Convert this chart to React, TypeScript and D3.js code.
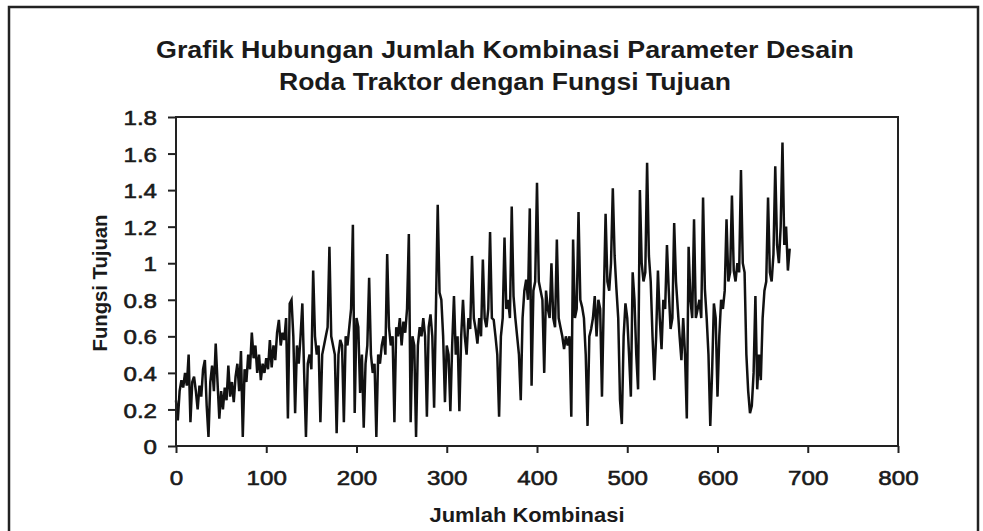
import * as d3 from 'd3';
import React, { useRef, useEffect } from 'react';

// Fungsi Tujuan, one value per 2 combinations (0..680)
const fungsi: number[] = [
  0.25, 0.14, 0.3, 0.36, 0.32, 0.4, 0.33, 0.5, 0.13, 0.35,
  0.38, 0.3, 0.2, 0.33, 0.27, 0.42, 0.47, 0.22, 0.05, 0.35,
  0.44, 0.3, 0.56, 0.35, 0.15, 0.3, 0.2, 0.32, 0.25, 0.44,
  0.27, 0.35, 0.24, 0.38, 0.45, 0.3, 0.52, 0.05, 0.42, 0.35,
  0.5, 0.42, 0.62, 0.48, 0.55, 0.4, 0.5, 0.36, 0.45, 0.4,
  0.48, 0.42, 0.58, 0.43, 0.55, 0.47, 0.62, 0.69, 0.55, 0.62,
  0.58, 0.7, 0.15, 0.78, 0.8, 0.6, 0.18, 0.55, 0.45, 0.6,
  0.78, 0.4, 0.05, 0.45, 0.5, 0.42, 0.96, 0.6, 0.5, 0.55,
  0.13, 0.5, 0.55, 0.6, 0.65, 1.09, 0.6, 0.55, 0.5, 0.07,
  0.5, 0.58, 0.55, 0.13, 0.6, 0.55, 0.65, 0.75, 1.21, 0.18,
  0.7, 0.65, 0.29, 0.5, 0.1, 0.45, 0.55, 0.92, 0.5, 0.4,
  0.45, 0.05, 0.5, 0.45, 0.55, 0.6, 0.5, 1.05, 0.65, 0.55,
  0.6, 0.13, 0.65, 0.6, 0.7, 0.55, 0.68, 0.62, 0.75, 1.16,
  0.13, 0.6, 0.55, 0.05, 0.55, 0.65, 0.6, 0.7, 0.6, 0.16,
  0.65, 0.72, 0.6, 0.21, 0.75, 1.32, 0.84, 0.8, 0.6, 0.24,
  0.55, 0.5, 0.19, 0.55, 0.82, 0.5, 0.6, 0.19, 0.6, 0.8,
  0.6, 0.5, 0.7, 0.64, 1.04, 0.7, 0.64, 0.56, 0.7, 0.6,
  1.02, 0.7, 0.65, 0.75, 1.17, 0.7, 0.69, 0.6, 0.5, 0.16,
  0.6, 0.7, 1.14, 0.75, 0.8, 0.7, 1.31, 0.82, 0.7, 0.6,
  0.5, 0.25, 0.7, 0.85, 0.91, 0.8, 1.3, 0.33, 0.85, 0.9,
  1.44, 0.9, 0.85, 0.8, 0.4, 0.85, 0.75, 0.7, 1.0, 0.7,
  0.65, 1.13, 0.7, 0.65, 0.6, 0.53, 0.6, 0.55, 0.6, 0.16,
  1.13, 0.7, 0.75, 1.28, 0.8, 0.76, 0.7, 0.5, 0.11, 0.6,
  0.64, 0.7, 0.82, 0.6, 0.8, 0.75, 0.27, 0.8, 1.27, 0.9,
  0.85, 1.0, 1.41, 1.04, 0.86, 0.7, 0.25, 0.12, 0.6, 0.78,
  0.7, 0.5, 0.27, 0.95, 0.8, 0.5, 0.31, 1.4, 1.0, 0.9,
  0.95, 1.55, 1.04, 0.9, 0.6, 0.36, 0.6, 0.96, 0.7, 0.53,
  0.8, 0.75, 1.1, 0.85, 0.64, 0.7, 1.22, 0.9, 0.75, 0.6,
  0.47, 0.7, 0.5, 0.15, 1.09, 0.8, 0.7, 1.24, 0.7, 0.75,
  0.8, 0.7, 1.36, 0.86, 0.7, 0.5, 0.11, 0.4, 0.78, 0.7,
  0.27, 0.6, 0.8, 0.75, 0.85, 1.24, 0.9, 0.95, 1.37, 0.96,
  0.9, 1.0, 0.95, 1.51, 1.0, 0.95, 0.5, 0.3, 0.18, 0.22,
  0.4, 0.82, 0.31, 0.5, 0.36, 0.7, 0.85, 0.9, 1.36, 0.95,
  0.9, 1.05, 1.53, 1.1, 1.0, 1.2, 1.66, 1.1, 1.2, 0.96,
  1.08,
];
const jumlah: number[] = d3.range(fungsi.length).map(i => i * 2);

const xTicks = [0, 100, 200, 300, 400, 500, 600, 700, 800];
const yTicks = [0, 0.2, 0.4, 0.6, 0.8, 1, 1.2, 1.4, 1.6, 1.8];
const titleLines = [
  'Grafik Hubungan Jumlah Kombinasi Parameter Desain',
  'Roda Traktor dengan Fungsi Tujuan',
];

const W = 983;
const H = 531;
const plot = { left: 176, right: 898, top: 117, bottom: 446 };
const font = 'Liberation Sans, Arial, sans-serif';
const ink = '#1a1a1a';

export default function App() {
  const ref = useRef<SVGSVGElement>(null);

  useEffect(() => {
    const svg = d3.select(ref.current);
    svg.selectAll('*').remove();

    const xScale = d3.scaleLinear().domain([0, 800]).range([plot.left, plot.right]);
    const yScale = d3.scaleLinear().domain([0, 1.8]).range([plot.bottom, plot.top]);

    svg.append('rect')
      .attr('width', W).attr('height', H).attr('fill', '#fff');

    // outer frame of the figure (bottom runs off the page)
    svg.append('rect')
      .attr('x', 9).attr('y', 7)
      .attr('width', 969).attr('height', H + 10)
      .attr('fill', 'none').attr('stroke', '#222').attr('stroke-width', 2.5);

    svg.selectAll('text.title')
      .data(titleLines)
      .enter()
      .append('text')
      .attr('class', 'title')
      .attr('x', 505)
      .attr('y', (d, i) => 58 + i * 32)
      .attr('text-anchor', 'middle')
      .attr('font-family', font)
      .attr('font-weight', 'bold')
      .attr('font-size', 24)
      .attr('textLength', (d, i) => (i === 0 ? 698 : 452))
      .attr('lengthAdjust', 'spacingAndGlyphs')
      .attr('fill', ink)
      .text(d => d);

    const xAxis = d3.axisBottom(xScale).tickValues(xTicks).tickSize(7).tickPadding(0).tickFormat(d3.format('d'));
    const yAxis = d3.axisLeft(yScale).tickValues(yTicks).tickSize(8).tickFormat(d => String(+d));

    const gx = svg.append('g')
      .attr('transform', `translate(0, ${plot.bottom})`)
      .call(xAxis);
    const gy = svg.append('g')
      .attr('transform', `translate(${plot.left}, 0)`)
      .call(yAxis);

    [gx, gy].forEach(g => {
      g.select('.domain').remove();
      g.selectAll('line').attr('stroke', '#222').attr('stroke-width', 2);
      g.selectAll('text')
        .attr('font-family', font)
        .attr('font-size', 21)
        .attr('fill', ink)
        .attr('stroke', ink)
        .attr('stroke-width', 0.6)
        .attr('transform', 'scale(1.15,1)');
    });
    gx.selectAll('text').attr('y', 31).attr('dy', '0.36em');
    gy.selectAll('text').attr('x', -19 / 1.15).attr('dy', '0.36em');

    const line = d3.line<number>()
      .x((d, i) => xScale(jumlah[i]))
      .y(d => yScale(d));

    svg.append('path')
      .datum(fungsi)
      .attr('d', line)
      .attr('fill', 'none')
      .attr('stroke', '#111')
      .attr('stroke-width', 2.5)
      .attr('stroke-linejoin', 'miter');

    svg.append('rect')
      .attr('x', plot.left).attr('y', plot.top)
      .attr('width', plot.right - plot.left)
      .attr('height', plot.bottom - plot.top)
      .attr('fill', 'none').attr('stroke', '#222').attr('stroke-width', 2);

    svg.append('text')
      .attr('x', 527).attr('y', 522)
      .attr('text-anchor', 'middle')
      .attr('font-family', font).attr('font-weight', 'bold').attr('font-size', 21)
      .attr('textLength', 195).attr('lengthAdjust', 'spacingAndGlyphs')
      .attr('fill', ink)
      .text('Jumlah Kombinasi');

    svg.append('text')
      .attr('transform', `translate(107, 283) rotate(-90)`)
      .attr('text-anchor', 'middle')
      .attr('font-family', font).attr('font-weight', 'bold').attr('font-size', 21)
      .attr('textLength', 137).attr('lengthAdjust', 'spacingAndGlyphs')
      .attr('fill', ink)
      .text('Fungsi Tujuan');
  }, []);

  return (
    <svg ref={ref} width={W} height={H} style={{ position: 'absolute', left: 0, top: 0 }} />
  );
}
